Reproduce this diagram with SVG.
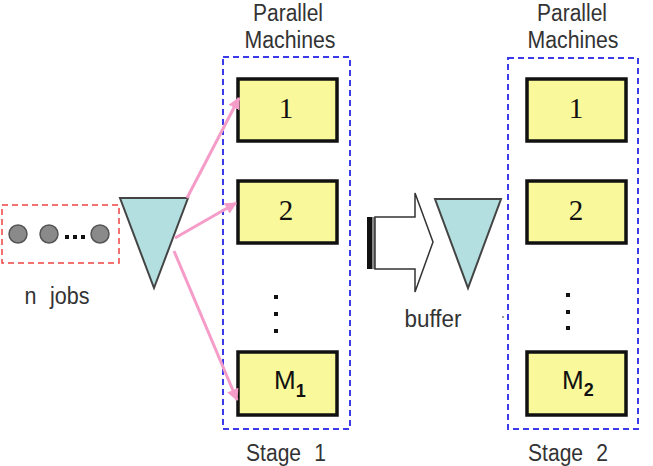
<svg xmlns="http://www.w3.org/2000/svg" width="653" height="466" viewBox="0 0 653 466">
<style>
.lbl{font-family:"Liberation Sans",Arial,sans-serif;font-size:23px;fill:#333;text-anchor:middle}
.stage{fill:none;stroke:#3a3ae8;stroke-width:2;stroke-dasharray:6 4}
.mach{fill:#f9f99c;stroke:#111;stroke-width:3.5}
.num{font-family:"Liberation Serif",serif;font-size:29px;fill:#111;text-anchor:middle}
.mm{font-family:"Liberation Sans",Arial,sans-serif;font-size:26px;fill:#111}
.tri{fill:#b3dfe0;stroke:#444;stroke-width:2}
.job{fill:#8a8a8a;stroke:#555;stroke-width:1.5}
.pink{stroke:#f59cc8;stroke-width:3;fill:none;marker-end:url(#ah)}
.dot{fill:#111}
</style>
<defs>
<marker id="ah" viewBox="0 0 10 10" refX="9" refY="5" markerWidth="4" markerHeight="4" orient="auto" markerUnits="strokeWidth">
<path d="M0,0 L10,5 L0,10 z" fill="#f59cc8"/>
</marker>
</defs>
<g id="jobs">
<rect x="2" y="205" width="117" height="58" fill="none" stroke="#ee4444" stroke-width="1.5" stroke-dasharray="6 4"/>
<circle class="job" cx="18" cy="234" r="9"/>
<circle class="job" cx="49" cy="234" r="9"/>
<circle class="job" cx="100" cy="234" r="9"/>
<rect class="dot" x="65" y="235" width="4" height="4"/>
<rect class="dot" x="73" y="235" width="4" height="4"/>
<rect class="dot" x="81" y="235" width="4" height="4"/>
<text class="lbl" x="57" y="304" word-spacing="8" textLength="65" lengthAdjust="spacingAndGlyphs">n jobs</text>
</g>
<g id="queue1">
<polygon class="tri" points="120,198 188,198 154,288"/>
</g>
<g id="stage1">
<text class="lbl" x="288" y="21" textLength="70" lengthAdjust="spacingAndGlyphs">Parallel</text>
<text class="lbl" x="290" y="48" textLength="91" lengthAdjust="spacingAndGlyphs">Machines</text>
<rect class="stage" x="223" y="57" width="127" height="372"/>
<g id="s1m1"><rect class="mach" x="238" y="79" width="99" height="62"/><text class="num" x="286" y="118">1</text></g>
<g id="s1m2"><rect class="mach" x="238" y="181" width="99" height="62"/><text class="num" x="286" y="220">2</text></g>
<g id="s1dots"><rect class="dot" x="274" y="295" width="4" height="4"/><rect class="dot" x="274" y="312" width="4" height="4"/><rect class="dot" x="274" y="329" width="4" height="4"/></g>
<g id="s1mM"><rect class="mach" x="238" y="352" width="99" height="63"/><text class="mm" x="274" y="389">M<tspan font-size="18" font-weight="bold" dy="8">1</tspan></text></g>
<text class="lbl" x="286" y="461" word-spacing="8" textLength="80" lengthAdjust="spacingAndGlyphs">Stage 1</text>
</g>
<g id="transfer">
<rect x="367" y="217" width="5" height="52" fill="#111"/>
<rect x="372" y="217" width="3" height="52" fill="#888"/>
<polygon points="375,217 415,217 415,193 433,242 415,292 415,269 375,269" fill="#fff" stroke="#333" stroke-width="1.5"/>
</g>
<g id="buffer">
<polygon class="tri" points="435,199 501,199 468,288"/>
<text class="lbl" x="433" y="327" textLength="57" lengthAdjust="spacingAndGlyphs">buffer</text>
<circle cx="503" cy="317" r="1" fill="#777"/>
</g>
<g id="stage2">
<text class="lbl" x="572" y="21" textLength="70" lengthAdjust="spacingAndGlyphs">Parallel</text>
<text class="lbl" x="573" y="48" textLength="91" lengthAdjust="spacingAndGlyphs">Machines</text>
<rect class="stage" x="508" y="58" width="130" height="371"/>
<g id="s2m1"><rect class="mach" x="527" y="79" width="99" height="62"/><text class="num" x="576" y="118">1</text></g>
<g id="s2m2"><rect class="mach" x="527" y="181" width="99" height="62"/><text class="num" x="576" y="220">2</text></g>
<g id="s2dots"><rect class="dot" x="566" y="293" width="4" height="4"/><rect class="dot" x="566" y="310" width="4" height="4"/><rect class="dot" x="566" y="326" width="4" height="4"/></g>
<g id="s2mM"><rect class="mach" x="527" y="352" width="99" height="63"/><text class="mm" x="562" y="389">M<tspan font-size="18" font-weight="bold" dy="7">2</tspan></text></g>
<text class="lbl" x="568" y="461" word-spacing="8" textLength="80" lengthAdjust="spacingAndGlyphs">Stage 2</text>
</g>
<g id="connectors">
<line class="pink" x1="187" y1="198" x2="239" y2="98"/>
<line class="pink" x1="175" y1="238" x2="236" y2="203"/>
<line class="pink" x1="174" y1="251" x2="237" y2="400"/>
</g>
</svg>
